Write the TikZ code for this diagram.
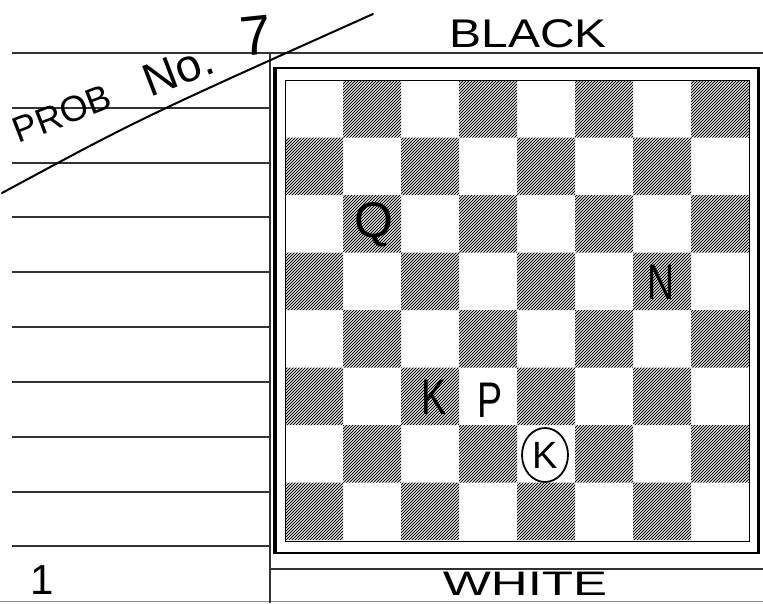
\documentclass[tikz,border=0pt]{standalone}
\usepackage{fontspec}
\setmainfont{Liberation Sans}
\usetikzlibrary{shapes.geometric}
\begin{document}
\begin{tikzpicture}[x=1pt,y=-1pt,
  rule/.style={line width=1.3pt,black!80},
  thinrule/.style={line width=0.7pt,black!45},
  hatch/.style={line width=1.0pt,black},
  hand/.style={line width=2pt,line cap=round},
  piece/.style={inner sep=0pt,font=\fontsize{50}{50}\selectfont},
  word/.style={inner sep=0pt}]
\useasboundingbox (0,0) rectangle (763,603);
\fill[white] (0,0) rectangle (763,603);

% ruled lines on the left
\foreach \y [count=\i] in {108,163,217,272,327,382,437,492,546} {
  \coordinate (L\i) at (12,\y);
  \coordinate (R\i) at (270,\y);
  \draw[rule] (L\i) -- (R\i);
}
\coordinate (T0) at (12,53);
\coordinate (T1) at (763,53);
\draw[rule] (T0) -- (T1);
\coordinate (B0) at (270,569);
\coordinate (B1) at (763,569);
\draw[rule] (B0) -- (B1);
\coordinate (E0) at (0,601.5);
\coordinate (E1) at (763,601.5);
\draw[thinrule] (E0) -- (E1);
\coordinate (V0) at (270,53);
\coordinate (V1) at (270,603);
\draw[line width=1.2pt,black!80] (V0) -- (V1);

% outer frame of the board
\draw[line width=4pt] (275,67) -- (275,554);
\draw[line width=2.5pt] (273,68) -- (759,68);
\draw[line width=3pt] (758,67) -- (758,554);
\draw[line width=2pt] (273,552.5) -- (759,552.5);

% hatched dark squares
\begin{scope}
  \path[clip] \foreach \r [evaluate=\r as \o using {int(mod(\r+1,2))}] in {0,...,7} {
      \foreach \k in {0,...,3} {
        ({285+58*(2*\k+\o)},{80+57.5*\r}) rectangle ++(58,57.5)
      }
    };
  \foreach \x in {-180,-177,...,750}
    \draw[hatch] (\x,541) -- ({\x+461},80);
\end{scope}

% inner frame
\draw[line width=0.9pt] (285,80) rectangle (749,541);

% pieces
\node[piece] (q) at (374,225) {Q};
\node[piece,xscale=0.75] (n) at (661,282) {N};
\node[piece,xscale=0.75] (k) at (434,397) {K};
\node[piece,xscale=0.75] (p) at (490,400) {P};
\node[draw,ellipse,line width=1.8pt,minimum width=46pt,minimum height=54pt,
      inner sep=0pt,font=\fontsize{38}{38}\selectfont] (wk) at (545,455) {K};

% handwritten labels
\node[word,rotate=21,font=\fontsize{36}{36}\selectfont] (prob) at (62,114) {PROB};
\node[word,rotate=21,font=\fontsize{46}{46}\selectfont] (no) at (178,70) {No.};
\node[word,rotate=6,font=\fontsize{56}{56}\selectfont] (seven) at (256,36) {7};
\node[word,xscale=1.2,font=\fontsize{40}{40}\selectfont] (black) at (528,34) {BLACK};
\node[word,xscale=1.5,font=\fontsize{34}{34}\selectfont] (white) at (525,584) {WHITE};
\node[word,font=\fontsize{42}{42}\selectfont] (one) at (42,580) {1};

% diagonal stroke
\coordinate (d0) at (2,193);
\coordinate (d1) at (373,14);
\draw[hand] (d0) .. controls (139,119) .. (d1);
\end{tikzpicture}
\end{document}
